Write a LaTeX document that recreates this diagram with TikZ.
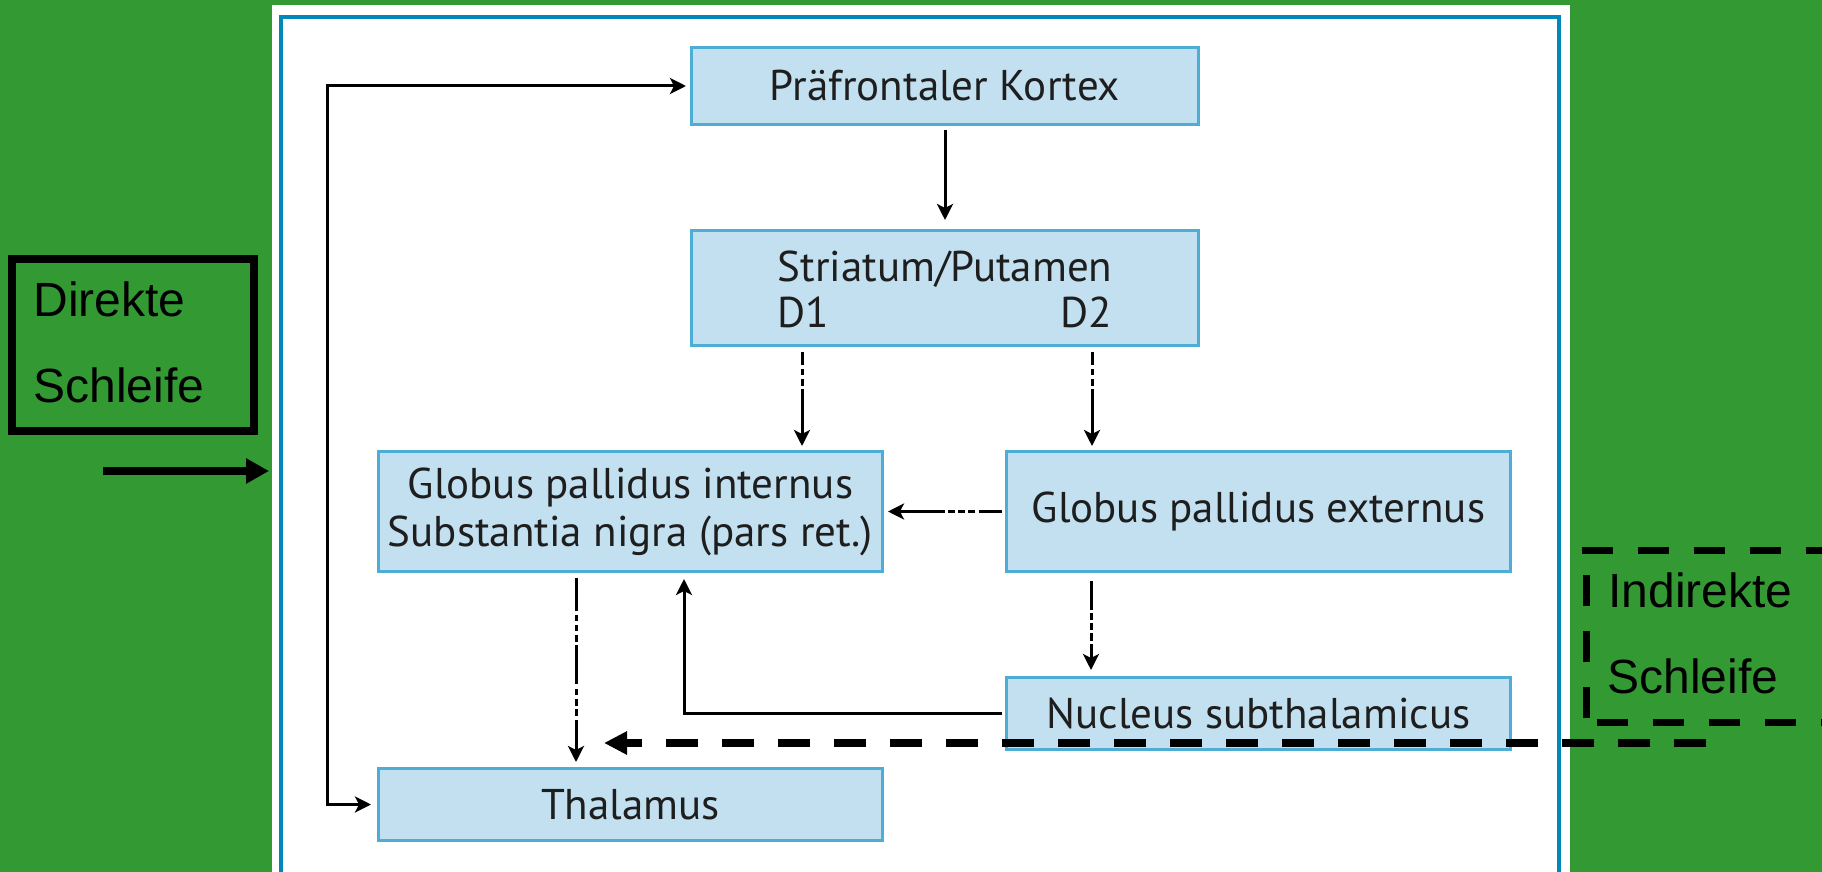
\documentclass[tikz,border=0pt]{standalone}
\usepackage{fontspec}
\usetikzlibrary{arrows.meta}
\newfontfamily\boxfont{PT Sans}
\newfontfamily\tagfont{Liberation Sans}
\definecolor{bggreen}{RGB}{51,153,51}
\definecolor{frameblue}{RGB}{0,136,187}
\definecolor{boxfill}{RGB}{195,224,240}
\definecolor{boxline}{RGB}{77,173,213}
\definecolor{boxtext}{RGB}{30,30,30}

\begin{document}
\begin{tikzpicture}[x=0.5pt,y=-0.5pt,
  box/.style={draw=boxline, line width=1.5pt, fill=boxfill, inner sep=0pt,
    text=boxtext, align=center,
    font=\boxfont\fontsize{21.5}{24}\selectfont},
  boxtxt/.style={inner sep=0pt, text=boxtext,
    font=\boxfont\fontsize{21.5}{24}\selectfont},
  conn/.style={line width=1.5pt, -{Stealth[length=8pt,width=8pt,inset=2pt]}},
  bothconn/.style={line width=1.5pt,
    {Stealth[length=8pt,width=8pt,inset=2pt]}-{Stealth[length=8pt,width=8pt,inset=2pt]}},
  stripat/.style={dash pattern=on 6.5pt off 2pt on 3pt off 2pt on 3.5pt off 1.5pt on 200pt off 1pt},
  gpepat/.style={dash pattern=on 11.5pt off 2pt on 3.5pt off 1.5pt on 3.5pt off 1.5pt on 3.5pt off 1.5pt on 200pt off 1pt},
  gpipat/.style={dash pattern=on 16.5pt off 2pt on 3pt off 2pt on 3pt off 2pt on 3.5pt off 1.5pt on 19.5pt off 2.5pt on 3pt off 2pt on 3.5pt off 1.5pt on 3.5pt off 2pt on 200pt off 1pt},
  nspat/.style={dash pattern=on 14.5pt off 1.5pt on 3.5pt off 1.5pt on 3.5pt off 1.5pt on 4pt off 1.5pt on 200pt off 1pt},
  tag/.style={inner sep=0pt, anchor=base west, text=black,
    font=\tagfont\fontsize{24}{29}\selectfont},
  tagdash/.style={line width=3.5pt, dash pattern=on 15.5pt off 12.5pt},
]
\useasboundingbox (0,0) rectangle (1822,872);

% background, white panel and its blue frame
\fill[bggreen] (0,0) rectangle (1822,872);
\fill[white] (272,5) rectangle (1570,872);
\draw[frameblue, line width=2pt] (281,880) -- (281,17) -- (1559,17) -- (1559,880);

% basal ganglia stations
\node[box, minimum width=253.5pt, minimum height=38.5pt] (pfc) at (945,86) {Präfrontaler Kortex};
\node[box, minimum width=253.5pt, minimum height=57.5pt] (str) at (945,288) {};
\node[boxtxt, anchor=base] (strname) at (945,281) {Striatum/Putamen};
\node[boxtxt, anchor=base west] (d1) at ([yshift=-23pt]strname.base west) {D1};
\node[boxtxt, anchor=base east] (d2) at ([yshift=-23pt]strname.base east) {D2};
\node[box, minimum width=252pt, minimum height=60pt] (gpi) at (630.5,511.5)
  {Globus pallidus internus\\Substantia nigra (pars ret.)};
\node[box, minimum width=252pt, minimum height=60pt] (gpe) at (1258.5,511.5) {Globus pallidus externus};
\node[box, minimum width=252pt, minimum height=36pt] (ns) at (1258.5,713.5) {Nucleus subthalamicus};
\node[box, minimum width=252pt, minimum height=36pt] (thal) at (630.5,804.5) {Thalamus};

% projections
\draw[conn, shorten <=2pt, shorten >=4.5pt] (pfc) -- (str);
\draw[conn, stripat, shorten <=2.5pt, shorten >=2pt]
  ([xshift=-71.5pt]str.south) -- ([xshift=-71.5pt]str.south |- gpi.north);
\draw[conn, stripat, shorten <=2.5pt, shorten >=2pt]
  ([xshift=73.5pt]str.south) -- ([xshift=73.5pt]str.south |- gpe.north);
\draw[conn, gpepat, shorten <=1.5pt, shorten >=2pt] (gpe.west) -- (gpi.east);
\draw[conn, gpipat, shorten <=2.5pt, shorten >=2.5pt]
  ([xshift=-27.25pt]gpi.south) -- ([xshift=-27.25pt]gpi.south |- thal.north);
\draw[conn, nspat, shorten <=4pt, shorten >=3pt]
  ([xshift=-83.75pt]gpe.south) -- ([xshift=-83.75pt]gpe.south |- ns.north);
\draw[conn, shorten <=1.5pt, shorten >=3pt] (ns.west) -| ([xshift=26.75pt]gpi.south);
\draw[bothconn, shorten <=3pt, shorten >=2pt] (thal.west) -- ++(-50,0) |- (pfc.west);

% direct loop label
\node[draw=black, line width=4pt, minimum width=121pt, minimum height=86pt, inner sep=0pt] (dirbox) at (133,345) {};
\node[tag] (dirA) at (33,316) {Direkte};
\node[tag] (dirB) at (33,402) {Schleife};
\coordinate (dirfrom) at (103,471);
\coordinate (dirto) at (269,471);
\draw[line width=4pt, -{Triangle[length=11.5pt,width=12pt]}] (dirfrom) -- (dirto);

% indirect loop label
\draw[tagdash] (1582,550) -- (1840,550);
\draw[tagdash, dash phase=15.5pt] (1586,550) -- (1586,722);
\draw[tagdash] (1597,722) -- (1840,722);
\node[tag] (indA) at (1608,607) {Indirekte};
\node[tag] (indB) at (1607,693) {Schleife};
\coordinate (indfrom) at (1706,743);
\coordinate (indto) at (604,743);
\draw[line width=4pt, dash pattern=on 16pt off 12pt, -{Triangle[length=11.5pt,width=11pt]}] (indfrom) -- (indto);
\end{tikzpicture}
\end{document}
